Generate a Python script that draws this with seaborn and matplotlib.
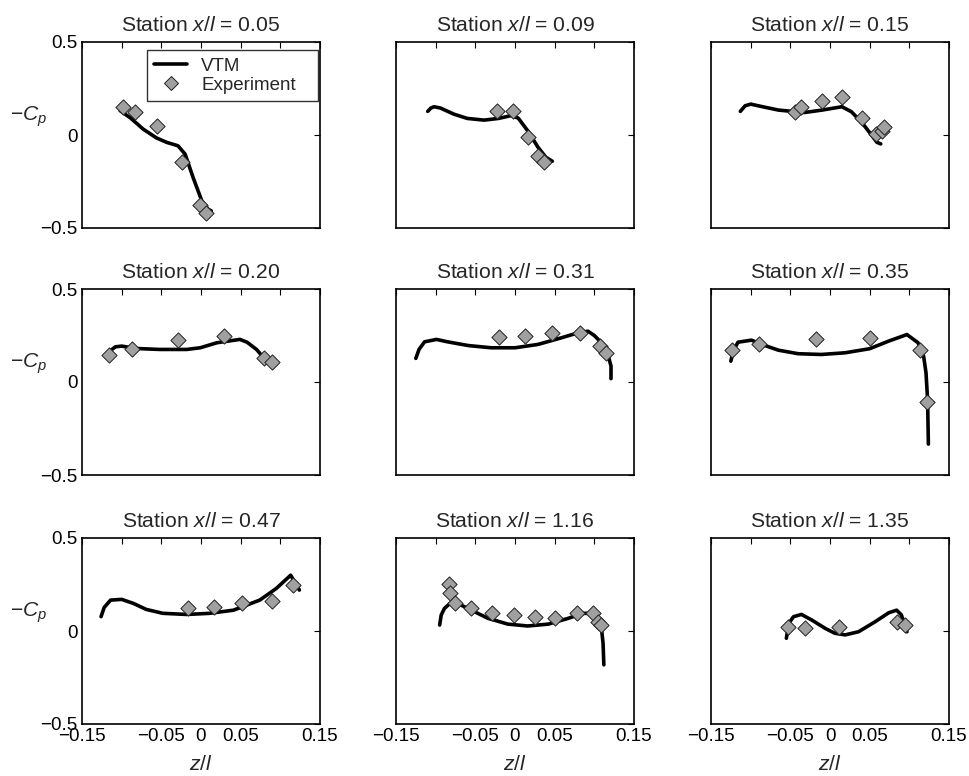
import matplotlib
matplotlib.use("Agg")
import matplotlib.pyplot as plt
import seaborn as sns
import pandas as pd
from matplotlib.lines import Line2D

# ---------------- data ----------------
stations = ["0.05", "0.09", "0.15", "0.20", "0.31", "0.35", "0.47", "1.16", "1.35"]

vtm_z_005 = [-0.102, -0.089, -0.073, -0.056, -0.043, -0.029, -0.020, -0.010, 0.001, 0.009, 0.013]
vtm_cp_005 = [0.131, 0.092, 0.032, -0.016, -0.040, -0.058, -0.103, -0.228, -0.354, -0.399, -0.408]
exp_z_005 = [-0.098, -0.083, -0.055, -0.024, -0.001, 0.006]
exp_cp_005 = [0.149, 0.122, 0.050, -0.144, -0.376, -0.421]

vtm_z_009 = [-0.110, -0.106, -0.102, -0.094, -0.077, -0.060, -0.039, -0.021, -0.005, 0.004, 0.016, 0.029, 0.039, 0.047]
vtm_cp_009 = [0.127, 0.145, 0.152, 0.145, 0.112, 0.089, 0.080, 0.089, 0.104, 0.091, 0.023, -0.066, -0.120, -0.141]
exp_z_009 = [-0.023, -0.003, 0.016, 0.029, 0.037]
exp_cp_009 = [0.130, 0.127, -0.012, -0.111, -0.143]

vtm_z_015 = [-0.113, -0.107, -0.100, -0.085, -0.065, -0.048, -0.032, -0.010, 0.015, 0.027, 0.040, 0.053, 0.059, 0.064]
vtm_cp_015 = [0.127, 0.157, 0.166, 0.152, 0.134, 0.127, 0.121, 0.134, 0.152, 0.125, 0.068, -0.004, -0.039, -0.048]
exp_z_015 = [-0.044, -0.036, -0.010, 0.015, 0.040, 0.058, 0.065, 0.068]
exp_cp_015 = [0.125, 0.152, 0.182, 0.204, 0.091, 0.004, 0.023, 0.041]

vtm_z_020 = [-0.115, -0.108, -0.100, -0.081, -0.052, -0.018, -0.001, 0.020, 0.049, 0.058, 0.070, 0.079]
vtm_cp_020 = [0.166, 0.189, 0.193, 0.180, 0.175, 0.175, 0.184, 0.211, 0.229, 0.214, 0.175, 0.130]
exp_z_020 = [-0.116, -0.087, -0.029, 0.029, 0.079, 0.089]
exp_cp_020 = [0.145, 0.175, 0.225, 0.250, 0.127, 0.107]

vtm_z_031 = [-0.125, -0.121, -0.114, -0.099, -0.085, -0.059, -0.030, 0.000, 0.029, 0.058, 0.079, 0.092, 0.100, 0.113, 0.117, 0.121, 0.121]
vtm_cp_031 = [0.127, 0.175, 0.216, 0.229, 0.216, 0.196, 0.184, 0.184, 0.202, 0.237, 0.264, 0.273, 0.250, 0.193, 0.148, 0.086, 0.018]
exp_z_031 = [-0.020, 0.013, 0.047, 0.082, 0.107, 0.115]
exp_cp_031 = [0.241, 0.246, 0.261, 0.264, 0.196, 0.157]

vtm_z_035 = [-0.125, -0.122, -0.116, -0.099, -0.086, -0.065, -0.040, -0.011, 0.019, 0.050, 0.074, 0.097, 0.111, 0.118, 0.121, 0.123, 0.124]
vtm_cp_035 = [0.112, 0.166, 0.214, 0.225, 0.202, 0.171, 0.152, 0.148, 0.157, 0.179, 0.220, 0.255, 0.211, 0.139, 0.050, -0.093, -0.334]
exp_z_035 = [-0.124, -0.090, -0.018, 0.050, 0.113, 0.122]
exp_cp_035 = [0.171, 0.205, 0.229, 0.236, 0.171, -0.107]

vtm_z_047 = [-0.126, -0.122, -0.114, -0.100, -0.085, -0.069, -0.048, -0.018, 0.011, 0.041, 0.074, 0.095, 0.113, 0.118, 0.124]
vtm_cp_047 = [0.077, 0.127, 0.166, 0.170, 0.148, 0.116, 0.095, 0.089, 0.095, 0.112, 0.166, 0.229, 0.300, 0.264, 0.220]
exp_z_047 = [-0.017, 0.016, 0.052, 0.090, 0.116]
exp_cp_047 = [0.121, 0.130, 0.148, 0.162, 0.246]

vtm_z_116 = [-0.095, -0.093, -0.089, -0.082, -0.072, -0.055, -0.034, -0.009, 0.016, 0.042, 0.067, 0.086, 0.096, 0.105, 0.109, 0.111, 0.112]
vtm_cp_116 = [0.032, 0.086, 0.121, 0.148, 0.148, 0.112, 0.068, 0.037, 0.027, 0.037, 0.068, 0.095, 0.095, 0.059, 0.014, -0.066, -0.182]
exp_z_116 = [-0.083, -0.082, -0.076, -0.055, -0.029, -0.001, 0.025, 0.051, 0.078, 0.098, 0.105, 0.108]
exp_cp_116 = [0.255, 0.205, 0.148, 0.125, 0.098, 0.086, 0.077, 0.071, 0.095, 0.095, 0.046, 0.032]

vtm_z_135 = [-0.055, -0.052, -0.046, -0.036, -0.023, -0.006, 0.006, 0.019, 0.036, 0.057, 0.074, 0.084, 0.090, 0.097]
vtm_cp_135 = [-0.039, 0.041, 0.077, 0.089, 0.059, 0.014, -0.012, -0.021, -0.004, 0.050, 0.098, 0.112, 0.086, -0.004]
exp_z_135 = [-0.053, -0.031, 0.011, 0.085, 0.095]
exp_cp_135 = [0.023, 0.014, 0.020, 0.050, 0.032]

vtm_z = [vtm_z_005, vtm_z_009, vtm_z_015, vtm_z_020, vtm_z_031, vtm_z_035, vtm_z_047, vtm_z_116, vtm_z_135]
vtm_cp = [vtm_cp_005, vtm_cp_009, vtm_cp_015, vtm_cp_020, vtm_cp_031, vtm_cp_035, vtm_cp_047, vtm_cp_116, vtm_cp_135]
exp_z = [exp_z_005, exp_z_009, exp_z_015, exp_z_020, exp_z_031, exp_z_035, exp_z_047, exp_z_116, exp_z_135]
exp_cp = [exp_cp_005, exp_cp_009, exp_cp_015, exp_cp_020, exp_cp_031, exp_cp_035, exp_cp_047, exp_cp_116, exp_cp_135]

x_ticks = [-0.15, -0.1, -0.05, 0, 0.05, 0.1, 0.15]
x_ticklabels = ["\u22120.15", "", "\u22120.05", "0", "0.05", "", "0.15"]
y_ticks = [-0.5, 0, 0.5]
y_ticklabels = ["\u22120.5", "0", "0.5"]

# ---------------- style ----------------
sns.set_style("white")
plt.rcParams["font.family"] = ["Liberation Sans", "DejaVu Sans"]
plt.rcParams["mathtext.fontset"] = "custom"
plt.rcParams["mathtext.rm"] = "Liberation Sans"
plt.rcParams["mathtext.it"] = "Liberation Sans:italic"
plt.rcParams["mathtext.bf"] = "Liberation Sans:bold"
FS = 13.5      # tick labels / legend
FS_T = 15.2    # titles and axis labels

W, H = 969, 776
fig = plt.figure(figsize=(W / 100, H / 100), dpi=100)

col_left = [82, 396, 711]
row_top = [42, 289, 538]
aw, ah = 238, 186

marker_color = "#a0a0a0"

for i in range(9):
    r, c = divmod(i, 3)
    ax = fig.add_axes([col_left[c] / W, (H - row_top[r] - ah) / H, aw / W, ah / H])
    dl = pd.DataFrame({"z": vtm_z[i], "cp": vtm_cp[i]})
    de = pd.DataFrame({"z": exp_z[i], "cp": exp_cp[i]})
    sns.lineplot(data=dl, x="z", y="cp", ax=ax, color="black", linewidth=2.6,
                 sort=False, estimator=None, zorder=2)
    sns.scatterplot(data=de, x="z", y="cp", ax=ax, marker="D", s=60,
                    color=marker_color, edgecolor="#202020", linewidth=0.7, zorder=3)
    ax.set_xlim(-0.15, 0.15)
    ax.set_ylim(-0.5, 0.5)
    ax.set_xticks(x_ticks)
    ax.set_yticks(y_ticks)
    if r == 2:
        ax.set_xticklabels(x_ticklabels, fontsize=FS)
        ax.set_xlabel("$z/l$", fontsize=FS_T, labelpad=7)
    else:
        ax.set_xticklabels([])
        ax.set_xlabel("")
    if c == 0:
        ax.set_yticklabels(y_ticklabels, fontsize=FS)
        ax.set_ylabel("$-C_p$", fontsize=FS_T, rotation=0, ha="center", va="center")
        ax.yaxis.set_label_coords(-0.225, 0.6)
    else:
        ax.set_yticklabels([])
        ax.set_ylabel("")
    ax.tick_params(direction="in", top=True, right=True, length=4, width=0.8,
                   pad=3, colors="black", labelsize=FS)
    for sp in ax.spines.values():
        sp.set_linewidth(1.2)
        sp.set_color("black")
    ax.set_title(f"Station $x/l$ = {stations[i]}", fontsize=FS_T, pad=8)

    if i == 0:
        handles = [Line2D([], [], color="black", linewidth=2.6),
                   Line2D([], [], linestyle="none", marker="D", markersize=7.5,
                          markerfacecolor=marker_color, markeredgecolor="#202020",
                          markeredgewidth=0.7)]
        leg = ax.legend(handles, ["VTM", "Experiment"], loc="upper left",
                        bbox_to_anchor=(0.273, 0.5, 0.72, 0.457), mode="expand",
                        borderaxespad=0, fontsize=FS, frameon=True, fancybox=False,
                        handlelength=1.75, handletextpad=0.75, borderpad=0.4,
                        labelspacing=0.1)
        leg.get_frame().set_edgecolor("black")
        leg.get_frame().set_linewidth(1.0)

fig.savefig("out.png", dpi=100)
